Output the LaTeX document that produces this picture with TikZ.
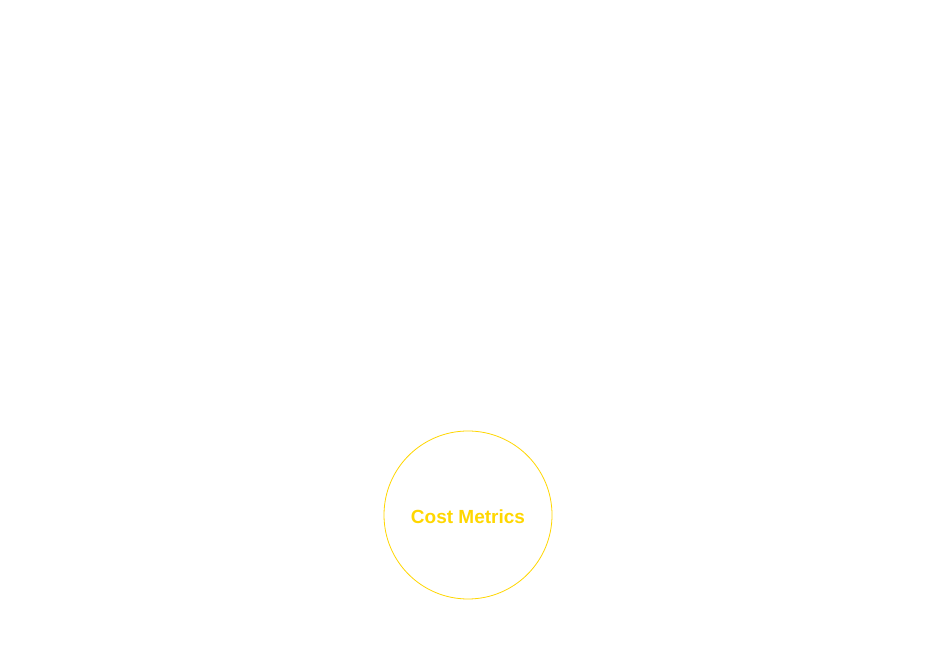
\documentclass[tikz,border=0pt]{standalone}
\usepackage{fontspec}
\setmainfont{Liberation Sans}
\definecolor{gold}{HTML}{FFD700}
\begin{document}
\begin{tikzpicture}[x=1pt,y=1pt]
\useasboundingbox[fill=white] (0,0) rectangle (936,671);
\node[circle,draw=gold,line width=0.8pt,minimum size=168pt,inner sep=0pt] (cm) at (468,156) {};
\node[text=gold,font=\bfseries\fontsize{19}{21}\selectfont,inner sep=0pt,anchor=base] (cmt) at (468,147) {Cost Metrics};
\end{tikzpicture}
\end{document}
